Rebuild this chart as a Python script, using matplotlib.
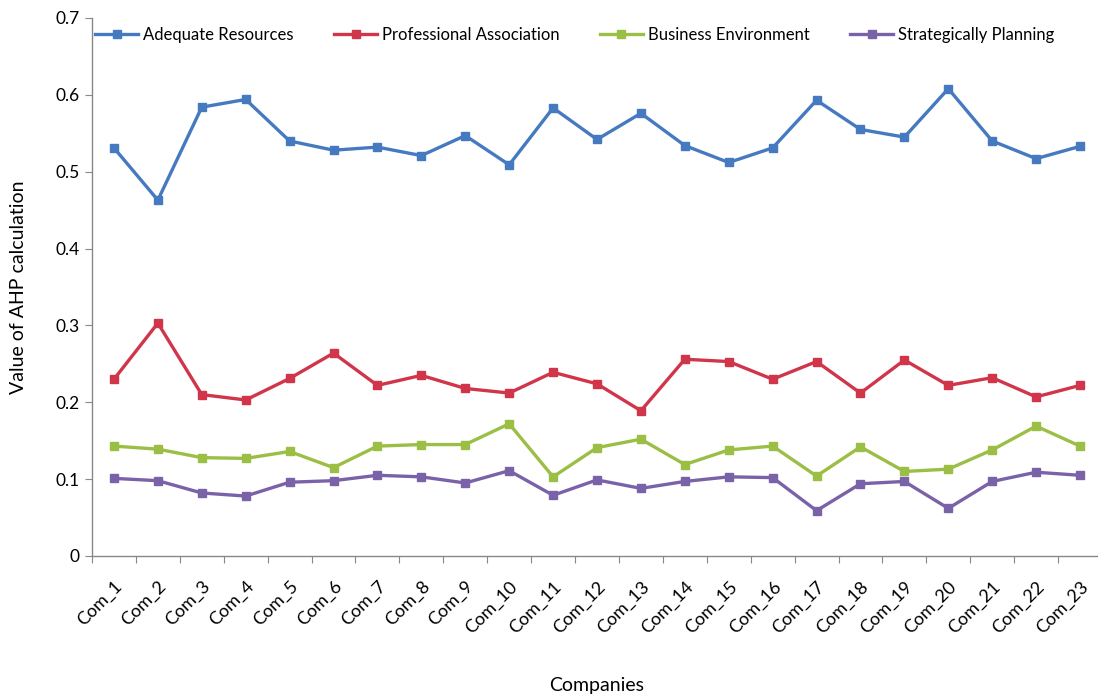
import matplotlib
matplotlib.use("Agg")
import matplotlib.pyplot as plt

companies = [f"Com_{i}" for i in range(1, 24)]

adequate_resources = [0.531, 0.463, 0.584, 0.594, 0.540, 0.528, 0.532, 0.521, 0.547, 0.509,
                      0.583, 0.542, 0.576, 0.534, 0.512, 0.531, 0.593, 0.555, 0.545, 0.608,
                      0.540, 0.517, 0.533]
professional_association = [0.230, 0.303, 0.210, 0.203, 0.231, 0.264, 0.222, 0.235, 0.218, 0.212,
                            0.239, 0.224, 0.189, 0.256, 0.253, 0.230, 0.253, 0.212, 0.255, 0.222,
                            0.232, 0.207, 0.222]
business_environment = [0.143, 0.139, 0.128, 0.127, 0.136, 0.115, 0.143, 0.145, 0.145, 0.172,
                        0.103, 0.141, 0.152, 0.119, 0.138, 0.143, 0.104, 0.142, 0.110, 0.113,
                        0.138, 0.169, 0.143]
strategically_planning = [0.101, 0.098, 0.082, 0.078, 0.096, 0.098, 0.105, 0.103, 0.095, 0.111,
                          0.079, 0.099, 0.088, 0.097, 0.103, 0.102, 0.059, 0.094, 0.097, 0.062,
                          0.097, 0.109, 0.105]

series_names = ["Adequate Resources", "Professional Association",
                "Business Environment", "Strategically Planning"]
colors = ["#4579C0", "#D0354A", "#9BBE44", "#7A62A8"]
y_ticks = [0, 0.1, 0.2, 0.3, 0.4, 0.5, 0.6, 0.7]
y_tick_labels = ["0", "0.1", "0.2", "0.3", "0.4", "0.5", "0.6", "0.7"]

plt.rcParams["font.family"] = ["Lato", "DejaVu Sans"]

W, H = 1098, 697
fig = plt.figure(figsize=(W / 100, H / 100), dpi=100)
ax = fig.add_axes([92 / W, 141 / H, 1010 / W, 538 / H])

x = list(range(1, len(companies) + 1))
all_series = [adequate_resources, professional_association,
              business_environment, strategically_planning]
handles = []
for name, vals, c in zip(series_names, all_series, colors):
    ln, = ax.plot(x, vals, color=c, lw=2.4, marker="s", markersize=5.5,
                  markeredgecolor=c, markerfacecolor=c, label=name,
                  solid_joinstyle="miter")
    handles.append(ln)

ax.set_xlim(0.5, len(companies) + 0.5)
ax.set_ylim(0, 0.7)
ax.set_yticks(y_ticks)
ax.set_yticklabels(y_tick_labels, fontsize=12.5)
# category boundaries carry the tick marks, category centres carry the labels
ax.set_xticks([i + 0.5 for i in range(0, len(companies) + 1)], minor=False)
ax.set_xticklabels([])
ax.set_xticks(x, minor=True)
ax.set_xticklabels(companies, minor=True, rotation=45, ha="right", va="top",
                   rotation_mode="anchor", fontsize=13)
ax.tick_params(axis="x", which="minor", length=0, pad=16)
ax.tick_params(axis="x", which="major", length=5, color="#888888", direction="out")
ax.tick_params(axis="y", length=5, color="#888888", direction="out", pad=4)

for side in ["top", "right"]:
    ax.spines[side].set_visible(False)
for side in ["left", "bottom"]:
    ax.spines[side].set_color("#888888")
    ax.spines[side].set_linewidth(1.0)

ax.set_ylabel("Value of AHP calculation", fontsize=14)
ax.yaxis.set_label_coords(-(92 - 27) / 1010, 0.5)
fig.text(597 / W, 1 - 685 / H, "Companies", ha="center", va="center", fontsize=14)

fig.legend(handles=handles, loc="center left", bbox_to_anchor=(80 / W, 1 - 35 / H),
           ncol=4, frameon=False, fontsize=12, handlelength=2.6,
           handletextpad=0.3, columnspacing=2.4)

fig.savefig("out.png", dpi=100)
